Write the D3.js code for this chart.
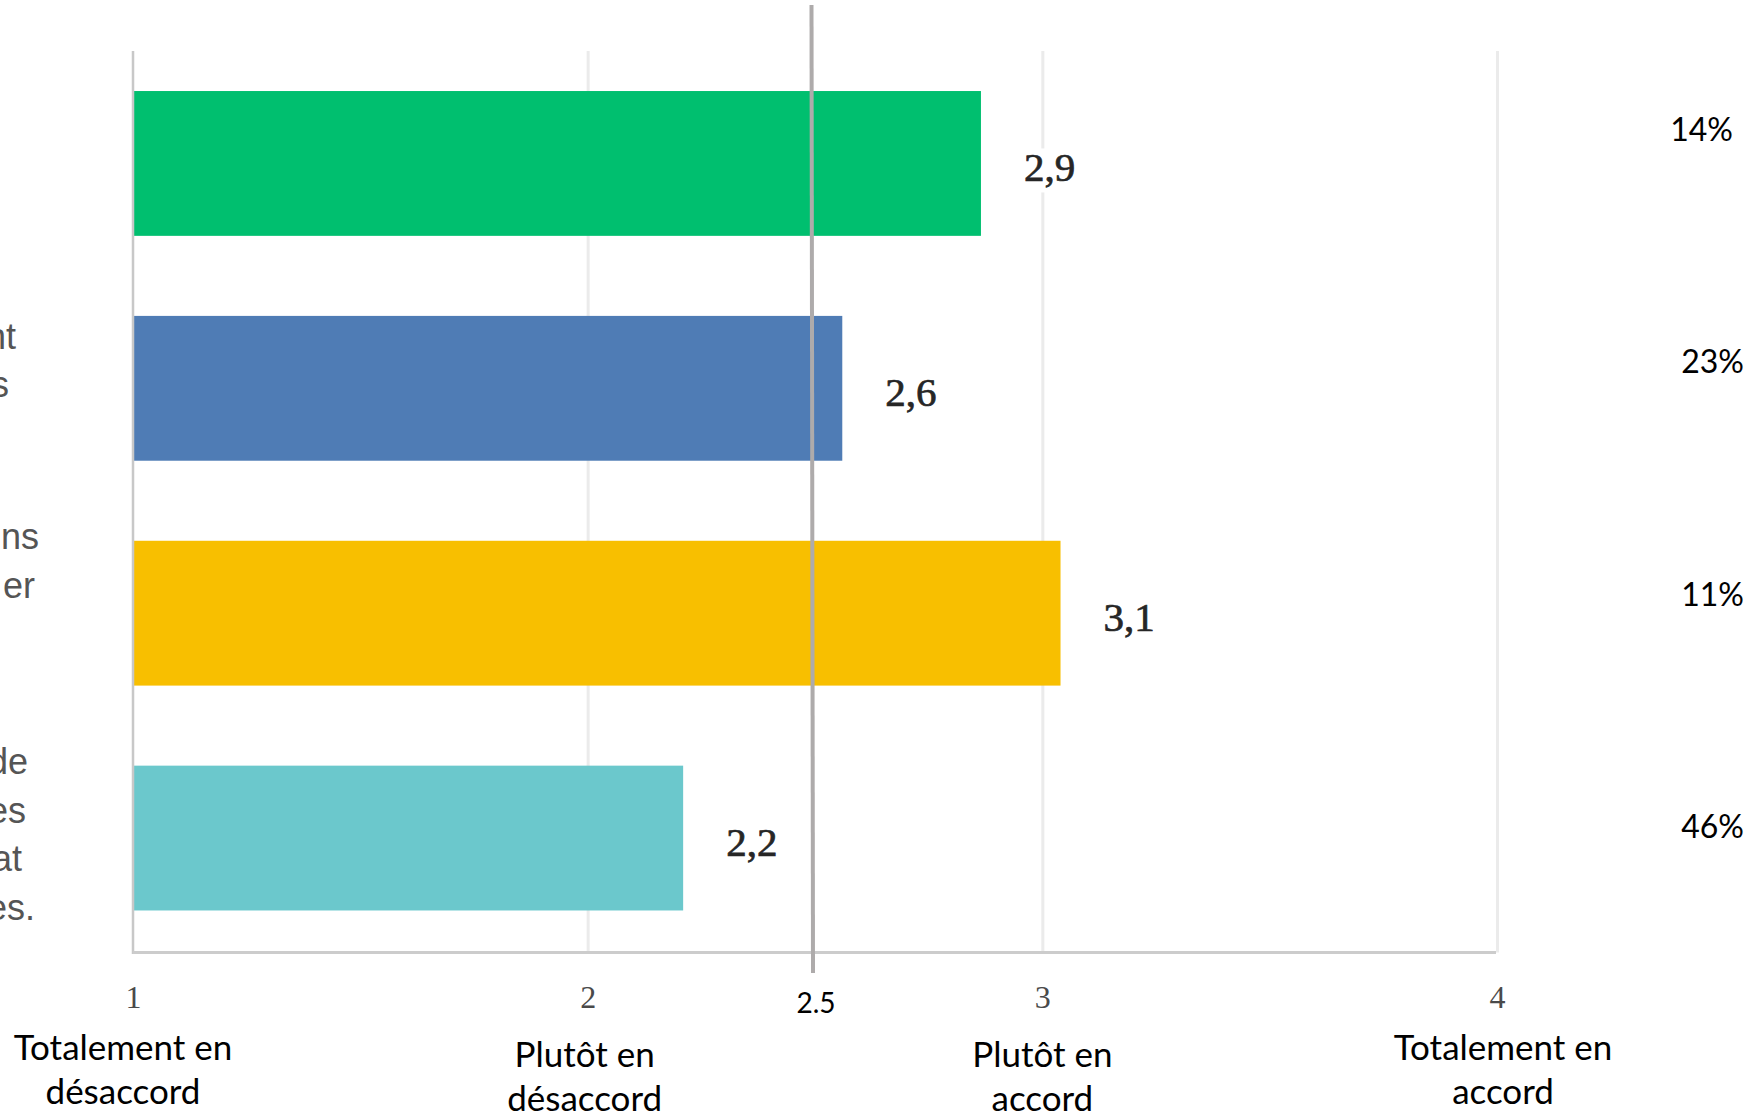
<!DOCTYPE html>
<meta charset="utf-8">
<body style="margin:0;background:#fff">

<script src="https://cdnjs.cloudflare.com/ajax/libs/d3/7.8.5/d3.min.js"></script>
<script>
// chart data
var categories = ["q1", "q2", "q3", "q4"];
var scores = [2.865, 2.56, 3.04, 2.21];
var scoreLabels = ["2,9", "2,6", "3,1", "2,2"];
var shares = [14, 23, 11, 46];
var colors = ["#00bf6f", "#4f7cb5", "#f8bf00", "#6bc8cc"];
// tails of the question texts, the rest is cut off by the left edge
var labelLines = [[], ["nt", "s", ""], ["ns", "er", "", ""], ["de", "es", "at", "es."]];
var tickValues = [1, 2, 3, 4];
var tickNames = [["Totalement en", "désaccord"], ["Plutôt en", "désaccord"],
                 ["Plutôt en", "accord"], ["Totalement en", "accord"]];
var threshold = 2.5;

var width = 1757, height = 1114;
var plot = {left: 133, right: 1497, top: 51, bottom: 952.5};

// layout tweaks (right end of each visible label line, name offsets)
var lineEnds = [[], [16, 9, 0], [39, 35, 0, 0], [28, 26, 22, 35]];
var nameShift = [{dx: -10, dy: 0}, {dx: -3, dy: 7}, {dx: 0, dy: 7}, {dx: 6, dy: 0}];

var x = d3.scaleLinear().domain([1, 4]).range([plot.left, plot.right]);
var y = d3.scaleBand().domain(categories)
    .range([plot.top, plot.bottom - 2])
    .paddingInner(0.356).paddingOuter(0.178);
// the share column sits on its own evenly spaced rows
var yShare = d3.scalePoint().domain(categories).range([141, 838]);

var svg = d3.select("body").append("svg")
    .attr("width", width)
    .attr("height", height)
    .style("display", "block");

var rows = categories.map(function(c, i) {
  return {cat: c, score: scores[i], label: scoreLabels[i], share: shares[i],
          color: colors[i], lines: labelLines[i], ends: lineEnds[i]};
});

// gridlines
var grid = svg.append("g")
    .attr("transform", "translate(0," + plot.bottom + ")")
    .call(d3.axisBottom(x).tickValues(tickValues.slice(1))
      .tickSize(-(plot.bottom - plot.top)).tickFormat(""));
grid.select(".domain").remove();
grid.selectAll("line").attr("stroke", "#ebebeb").attr("stroke-width", 3);

// bars
svg.append("g").selectAll("rect")
  .data(rows)
  .enter().append("rect")
    .attr("x", x(1) + 1)
    .attr("y", function(d) { return y(d.cat); })
    .attr("width", function(d) { return x(d.score) - x(1) - 1; })
    .attr("height", y.bandwidth())
    .attr("fill", function(d) { return d.color; });

// axes lines
svg.append("line")
    .attr("x1", x(1)).attr("x2", x(1))
    .attr("y1", plot.top).attr("y2", plot.bottom + 1.5)
    .attr("stroke", "#c8c8c8").attr("stroke-width", 2.5);
svg.append("line")
    .attr("x1", x(1)).attr("x2", x(4) - 1)
    .attr("y1", plot.bottom).attr("y2", plot.bottom)
    .attr("stroke", "#cccccc").attr("stroke-width", 3);

// value labels with white backing
var vals = svg.append("g").selectAll("g")
  .data(rows)
  .enter().append("g")
    .attr("transform", function(d) {
      return "translate(" + (x(d.score) + 43) + "," + (y(d.cat) + y.bandwidth() / 2 + 18) + ")";
    });
vals.append("rect")
    .attr("x", -2).attr("y", -33).attr("width", 58).attr("height", 44)
    .attr("fill", "#fff");
vals.append("text")
    .attr("font-family", "Liberation Serif, serif")
    .attr("font-size", 41)
    .attr("fill", "#262626")
    .attr("stroke", "#262626").attr("stroke-width", 0.7)
    .text(function(d) { return d.label; });

// tick numbers
var ticks = svg.append("g")
    .attr("transform", "translate(0," + plot.bottom + ")")
    .call(d3.axisBottom(x).tickValues(tickValues).tickSize(0).tickPadding(0)
      .tickFormat(d3.format("d")));
ticks.select(".domain").remove();
ticks.selectAll("text")
    .attr("dy", 0).attr("y", 55)
    .attr("font-family", "Liberation Serif, serif")
    .attr("font-size", 32)
    .attr("fill", "#4a4a4a");

// scale names under the ticks
var names = svg.append("g").selectAll("text")
  .data(tickValues)
  .enter().append("text")
    .attr("text-anchor", "middle")
    .attr("font-family", "Lato, sans-serif")
    .attr("font-size", 35)
    .attr("fill", "#000")
    .attr("transform", function(d, i) {
      return "translate(" + (x(d) + nameShift[i].dx) + "," + (1060 + nameShift[i].dy) + ")";
    });
names.selectAll("tspan")
  .data(function(d, i) { return tickNames[i]; })
  .enter().append("tspan")
    .attr("x", 0)
    .attr("dy", function(d, j) { return j === 0 ? 0 : 44; })
    .text(function(d) { return d; });

// threshold line and its label
svg.append("line")
    .attr("x1", x(threshold) - 3.5).attr("x2", x(threshold) - 2)
    .attr("y1", 5).attr("y2", 973)
    .attr("stroke", "#aeabab").attr("stroke-width", 4);
svg.append("text")
    .attr("x", x(threshold) + 1).attr("y", 1013)
    .attr("text-anchor", "middle")
    .attr("font-family", "Lato, sans-serif")
    .attr("font-size", 28)
    .attr("fill", "#000")
    .text(d3.format(".1f")(threshold));

// shares on the right
svg.append("g").selectAll("text")
  .data(rows)
  .enter().append("text")
    .attr("x", function(d, i) { return i === 0 ? 1733 : 1744; })
    .attr("y", function(d) { return yShare(d.cat); })
    .attr("text-anchor", "end")
    .attr("font-family", "Lato, sans-serif")
    .attr("font-size", 32)
    .attr("fill", "#000")
    .text(function(d) { return d.share + "%"; });

// cut-off question texts on the left
var lab = svg.append("g").selectAll("g")
  .data(rows)
  .enter().append("g");
lab.selectAll("text")
  .data(function(d) {
    var n = d.lines.length, c = y(d.cat) + y.bandwidth() / 2;
    return d.lines.map(function(t, j) {
      return {t: t, x: d.ends[j], y: c + (j - (n - 1) / 2) * 48.5 + 9};
    });
  })
  .enter().append("text")
    .attr("x", function(d) { return d.x; })
    .attr("y", function(d) { return d.y; })
    .attr("text-anchor", "end")
    .attr("font-family", "Liberation Sans, Arial, sans-serif")
    .attr("font-size", 36)
    .attr("fill", "#555")
    .text(function(d) { return d.t; });
</script>
</body>
